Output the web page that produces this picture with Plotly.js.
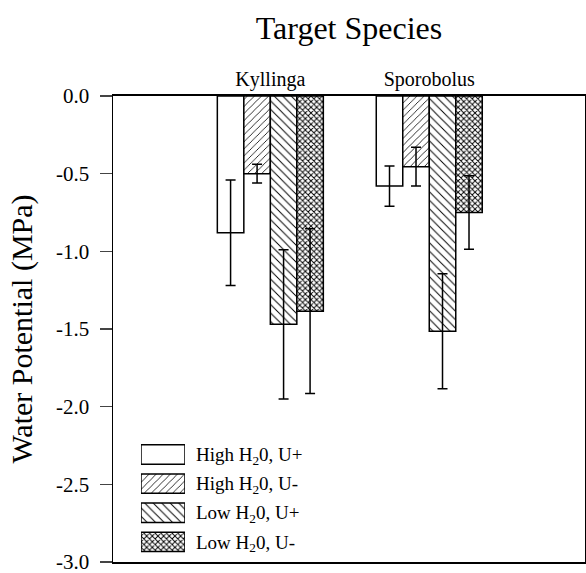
<!DOCTYPE html>
<html>
<head>
<meta charset="utf-8">
<script src="https://cdn.plot.ly/plotly-3.0.1.min.js"></script>
<style>html,body{margin:0;padding:0;background:#fff;}#chart{width:586px;height:573px;}</style>
</head>
<body>
<div id="chart"></div>
<script>
const species = ["Kyllinga", "Sporobolus"];
const seriesNames = ["High H<sub>2</sub>0, U+", "High H<sub>2</sub>0, U-", "Low H<sub>2</sub>0, U+", "Low H<sub>2</sub>0, U-"];
const highUplus = [-0.88, -0.58];
const highUplusErr = [0.34, 0.13];
const highUminus = [-0.50, -0.455];
const highUminusErr = [0.06, 0.125];
const lowUplus = [-1.47, -1.515];
const lowUplusErr = [0.48, 0.37];
const lowUminus = [-1.385, -0.75];
const lowUminusErr = [0.53, 0.237];
const yTicks = [0, -0.5, -1, -1.5, -2, -2.5, -3];
const legendKeyLength = [1, 1, 1, 1];

const values = [highUplus, highUminus, lowUplus, lowUminus];
const errors = [highUplusErr, highUminusErr, lowUplusErr, lowUminusErr];
const patterns = ["", "/", "\\", "x"];
const patternSizes = [5, 5, 6, 4];
const patternSolidity = [0.2, 0.16, 0.16, 0.42];

const serif = "Liberation Serif";

function markerFor(i) {
  return {
    color: "white",
    line: {color: "black", width: 1.5},
    pattern: {shape: patterns[i], fgcolor: "black", bgcolor: "white", size: patternSizes[i], solidity: patternSolidity[i]}
  };
}

const traces = values.map((v, i) => ({
  type: "bar",
  x: species,
  y: v,
  name: seriesNames[i],
  showlegend: false,
  marker: markerFor(i),
  error_y: {type: "data", array: errors[i], visible: true, color: "black", thickness: 1.5, width: 5}
}));

// legend keys drawn as bars on a small inset axis pair
const legendTraces = seriesNames.map((n, i) => ({
  type: "bar",
  orientation: "h",
  x: [legendKeyLength[i]],
  y: [n],
  xaxis: "x2",
  yaxis: "y2",
  showlegend: false,
  hoverinfo: "skip",
  marker: markerFor(i)
}));

const layout = {
  width: 586, height: 573,
  margin: {l: 113, r: 1, t: 96, b: 11},
  paper_bgcolor: "white", plot_bgcolor: "white",
  font: {family: serif, color: "black", size: 20},
  title: {text: "Target Species", font: {family: serif, size: 32, color: "black"}, x: 0.5, xref: "paper", y: 0.952, yanchor: "middle"},
  barmode: "group", bargap: 0.333, bargroupgap: 0,
  showlegend: false,
  xaxis: {type: "category", side: "top", range: [-0.99, 1.98], showline: true, linecolor: "black", linewidth: 2,
          mirror: true, ticks: "", showgrid: false, zeroline: false, tickfont: {family: serif, size: 20}},
  yaxis: {range: [-3, 0], tickvals: yTicks, ticktext: yTicks.map(v => v.toFixed(1)), ticks: "outside", ticklen: 12, tickwidth: 1.5,
          ticklabelstandoff: 6, ticklabeloverflow: "allow",
          showline: true, linecolor: "black", linewidth: 1.5, mirror: true, showgrid: false, zeroline: false,
          tickfont: {family: serif, size: 21},
          title: {text: "Water Potential (MPa)", font: {family: serif, size: 30}, standoff: 14}},
  xaxis2: {domain: [0.0593, 0.1525], anchor: "y2", range: [0, 1], visible: false, fixedrange: true},
  yaxis2: {domain: [0.012, 0.262], anchor: "x2", side: "right", type: "category", autorange: "reversed",
           showline: false, showgrid: false, zeroline: false, ticks: "", ticklabelstandoff: 10,
           tickfont: {family: serif, size: 19}},
  bargroupgap: 0
};

Plotly.newPlot("chart", traces.concat(legendTraces), layout, {displayModeBar: false, staticPlot: true});
</script>
</body>
</html>
